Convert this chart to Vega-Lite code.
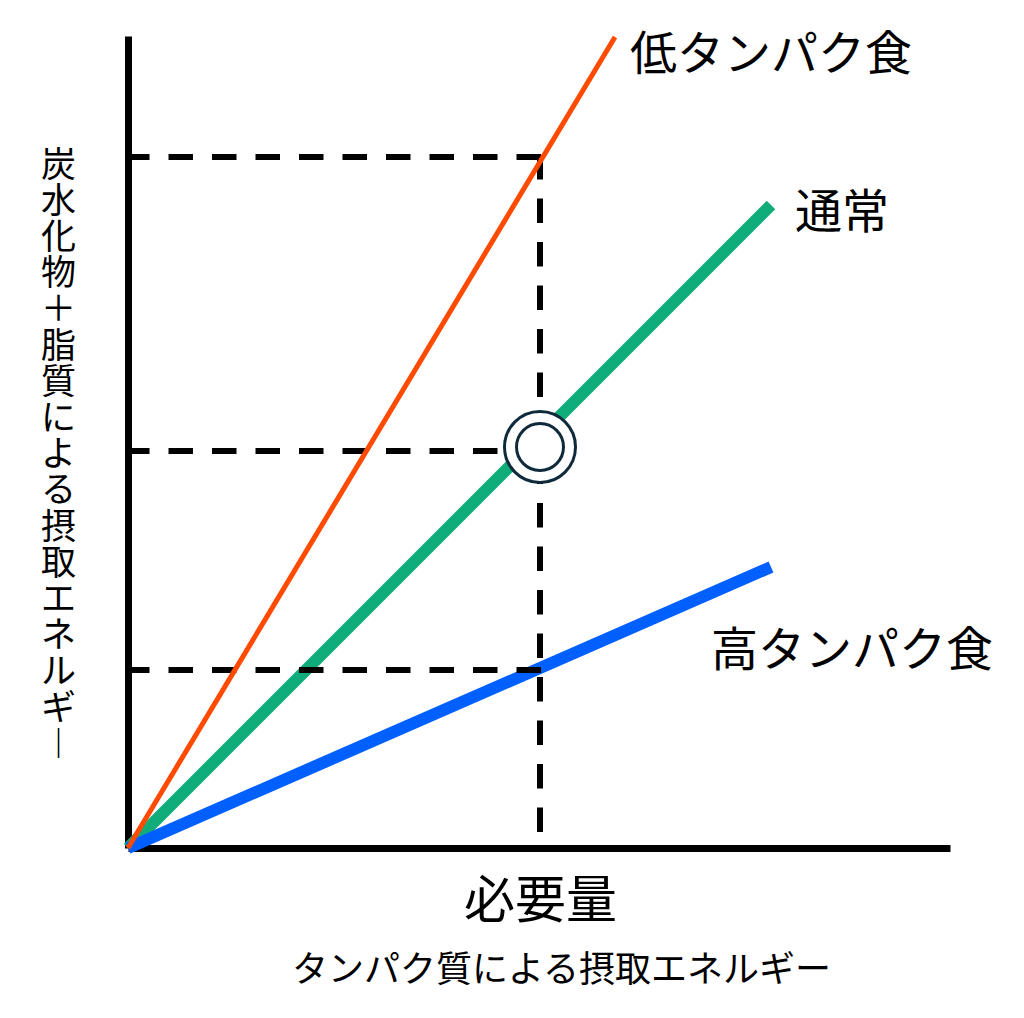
{
  "$schema": "https://vega.github.io/schema/vega-lite/v6.json",
  "width": 822,
  "height": 812,
  "autosize": {"type": "none"},
  "padding": {"left": 128, "right": 74, "top": 36, "bottom": 170},
  "background": "white",
  "config": {
    "view": {"stroke": null},
    "font": "Noto Sans CJK JP",
    "text": {"font": "Noto Sans CJK JP"}
  },
  "datasets": {
    "lines": [
      {"series": "低タンパク食", "x": 0, "y": 0},
      {"series": "低タンパク食", "x": 487, "y": 811},
      {"series": "通常", "x": 0, "y": 0},
      {"series": "通常", "x": 643, "y": 643},
      {"series": "高タンパク食", "x": 0, "y": 0},
      {"series": "高タンパク食", "x": 643, "y": 281}
    ],
    "guides": [
      {"guide": "h1", "pt": 0, "x": -3, "y": 691},
      {"guide": "h1", "pt": 1, "x": 415, "y": 691},
      {"guide": "h2", "pt": 0, "x": -3, "y": 397},
      {"guide": "h2", "pt": 1, "x": 415, "y": 397},
      {"guide": "h3", "pt": 0, "x": -3, "y": 178},
      {"guide": "h3", "pt": 1, "x": 415, "y": 178},
      {"guide": "v", "pt": 0, "x": 412, "y": 693},
      {"guide": "v", "pt": 1, "x": 412, "y": 13}
    ],
    "point": [
      {"x": 412, "y": 401}
    ],
    "labels": [
      {"label": "低タンパク食", "x": 502, "y": 792},
      {"label": "通常", "x": 667, "y": 634},
      {"label": "高タンパク食", "x": 583, "y": 196}
    ]
  },
  "encoding": {
    "x": {
      "field": "x",
      "type": "quantitative",
      "scale": {"domain": [0, 822], "nice": false, "zero": false},
      "axis": {
        "domain": true,
        "domainColor": "black",
        "domainWidth": 7,
        "ticks": false,
        "tickSize": 0,
        "grid": false,
        "values": [412],
        "labelExpr": "'必要量'",
        "labelFontSize": 51,
        "labelColor": "black",
        "labelFont": "Noto Sans CJK JP",
        "labelPadding": 29,
        "labelBaseline": "top",
        "labelFlush": false,
        "labelOverlap": false,
        "title": "タンパク質による摂取エネルギー",
        "titleFont": "Noto Sans CJK JP",
        "titleFontSize": 36,
        "titleFontWeight": "normal",
        "titleColor": "black",
        "titleX": 433,
        "titleY": 105,
        "titleAlign": "center",
        "titleBaseline": "top"
      }
    },
    "y": {
      "field": "y",
      "type": "quantitative",
      "scale": {"domain": [0, 812], "nice": false, "zero": false},
      "axis": {
        "domain": true,
        "domainColor": "black",
        "domainWidth": 7,
        "ticks": false,
        "tickSize": 0,
        "labels": false,
        "grid": false,
        "title": ["炭", "水", "化", "物", "＋", "脂", "質", "に", "よ", "る", "摂", "取", "エ", "ネ", "ル", "ギ", "︱"],
        "titleFont": "Noto Sans CJK JP",
        "titleFontSize": 35,
        "titleFontWeight": "normal",
        "titleColor": "black",
        "titleAngle": 0,
        "titleLineHeight": 36.2,
        "titleX": -70,
        "titleY": 129,
        "titleAlign": "center",
        "titleBaseline": "middle"
      }
    }
  },
  "layer": [
    {
      "data": {"name": "lines"},
      "transform": [{"filter": "datum.series !== '低タンパク食'"}],
      "mark": {"type": "line", "strokeWidth": 12, "strokeCap": "butt", "clip": false},
      "encoding": {
        "color": {
          "field": "series",
          "type": "nominal",
          "scale": {"domain": ["通常", "高タンパク食"], "range": ["#10AC79", "#0060FF"]},
          "legend": null
        },
        "order": {"field": "x", "type": "quantitative"}
      }
    },
    {
      "data": {"name": "guides"},
      "mark": {"type": "line", "color": "black", "strokeWidth": 6, "strokeDash": [24.5, 19], "strokeCap": "butt"},
      "encoding": {
        "detail": {"field": "guide", "type": "nominal"},
        "order": {"field": "pt", "type": "quantitative"}
      }
    },
    {
      "data": {"name": "lines"},
      "transform": [{"filter": "datum.series === '低タンパク食'"}],
      "mark": {"type": "line", "strokeWidth": 5, "strokeCap": "butt", "color": "#FF4A00"},
      "encoding": {
        "order": {"field": "x", "type": "quantitative"}
      }
    },
    {
      "data": {"name": "point"},
      "mark": {"type": "point", "shape": "circle", "filled": false, "fill": "white", "fillOpacity": 1, "stroke": "#0F2A3A", "strokeWidth": 3, "opacity": 1, "size": 5041}
    },
    {
      "data": {"name": "point"},
      "mark": {"type": "point", "shape": "circle", "filled": false, "fill": "white", "fillOpacity": 1, "stroke": "#0F2A3A", "strokeWidth": 3, "opacity": 1, "size": 2209}
    },
    {
      "data": {"name": "labels"},
      "mark": {"type": "text", "align": "left", "baseline": "middle", "fontSize": 47, "color": "black", "font": "Noto Sans CJK JP"},
      "encoding": {
        "text": {"field": "label", "type": "nominal"}
      }
    }
  ]
}
